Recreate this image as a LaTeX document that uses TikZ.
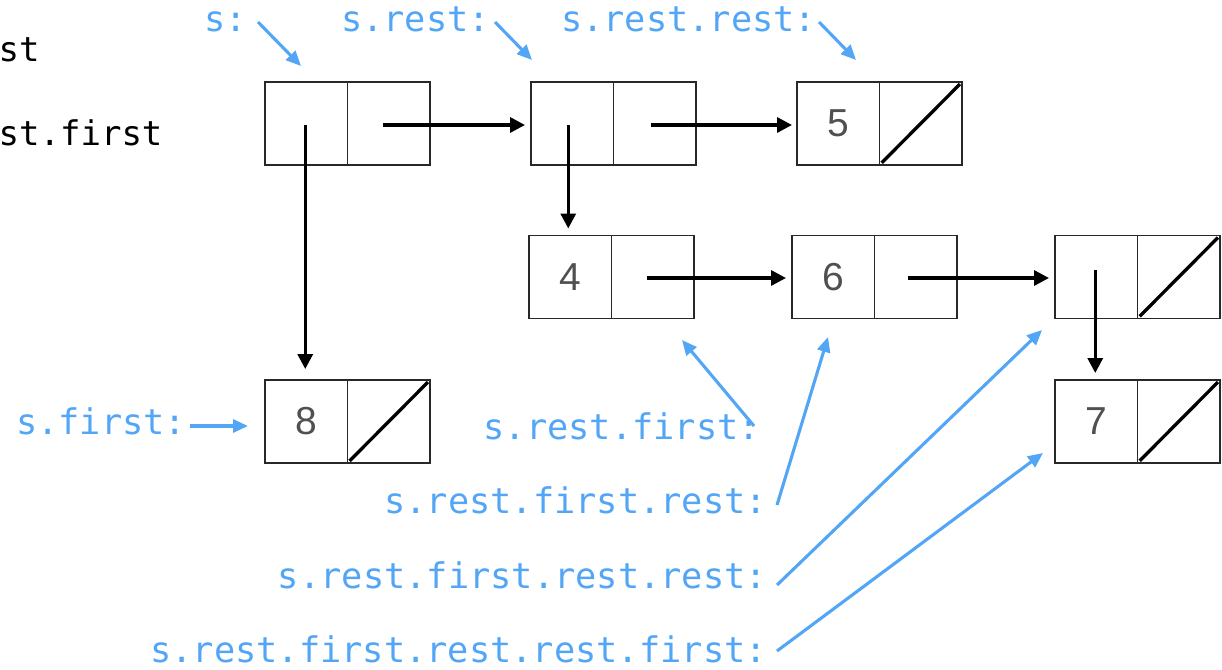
\documentclass[tikz,border=0pt]{standalone}
\usepackage{fontspec}
\setmonofont{DejaVu Sans Mono}
\newfontfamily\digitfont{Liberation Sans}
\usetikzlibrary{arrows.meta}
\definecolor{lblblue}{RGB}{82,166,245}
\definecolor{numgray}{RGB}{80,80,80}
\definecolor{boxline}{RGB}{40,40,40}
\tikzset{
  cell/.style={draw=boxline, line width=1.2pt, minimum width=82.5pt, minimum height=83pt, inner sep=0pt, outer sep=0pt,
    font=\digitfont\fontsize{39}{39}\selectfont, text=numgray},
  ptr/.style={line width=3.3pt, -{Triangle[length=15pt,width=15pt]}},
  nullslash/.style={line width=3.3pt, shorten <=3pt, shorten >=3pt},
  lbl/.style={text=lblblue, font=\ttfamily\fontsize{35.3}{35.3}\selectfont, inner sep=0pt},
  blk/.style={text=black, font=\ttfamily\fontsize{34}{34}\selectfont, inner sep=0pt},
  bptr/.style={draw=lblblue, line width=3.1pt, -{Triangle[length=15pt,width=13pt]}},
}
\begin{document}
\begin{tikzpicture}[x=1pt,y=-1pt]
\useasboundingbox (0,0) rectangle (1222,669);
% clipped black text at top left
\node[blk, anchor=base west] (t1) at (-1.5,62) {st};
\node[blk, anchor=base west] (t2) at (-1.5,145) {st.first};
% boxes
\node[cell] (Al) at (306.25,123.5) {};
\node[cell] (Ar) at (388.75,123.5) {};
\node[cell] (Bl) at (572.25,123.5) {};
\node[cell] (Br) at (654.75,123.5) {};
\node[cell] (Cl) at (838.25,123.5) {5};
\node[cell] (Cr) at (920.75,123.5) {};
\node[cell] (Dl) at (570.25,277) {4};
\node[cell] (Dr) at (652.75,277) {};
\node[cell] (El) at (833.25,277) {6};
\node[cell] (Er) at (915.75,277) {};
\node[cell] (Fl) at (1096.25,277) {};
\node[cell] (Fr) at (1178.75,277) {};
\node[cell] (Gl) at (1096.25,421.5) {7};
\node[cell] (Gr) at (1178.75,421.5) {};
\node[cell] (Hl) at (306.25,421.5) {8};
\node[cell] (Hr) at (388.75,421.5) {};
% null slashes
\foreach \n in {Cr,Fr,Gr,Hr}
  \draw[nullslash] (\n.south west) -- (\n.north east);
% pointers
\draw[ptr, shorten >=6pt] ([xshift=-6pt,yshift=-1.5pt]Ar.center) -- ([yshift=-1.5pt]Bl.west);
\draw[ptr, shorten >=5pt] ([xshift=-4pt,yshift=-1.5pt]Br.center) -- ([yshift=-1.5pt]Cl.west);
\draw[ptr, shorten >=6pt] ([xshift=-6pt,yshift=-1pt]Dr.center) -- ([yshift=-1pt]El.west);
\draw[ptr, shorten >=6pt] ([xshift=-8pt,yshift=-1pt]Er.center) -- ([yshift=-1pt]Fl.west);
\draw[ptr, shorten >=11pt] ([xshift=-1pt,yshift=-1.5pt]Al.center) -- ([xshift=-1pt]Al.center |- Hl.north);
\draw[ptr, shorten >=7pt] ([xshift=-4pt,yshift=-1.5pt]Bl.center) -- ([xshift=-4pt]Bl.center |- Dl.north);
\draw[ptr, shorten >=7pt] ([xshift=-1pt,yshift=7pt]Fl.center) -- ([xshift=-1pt]Fl.center |- Gl.north);
% labels
\node[lbl, anchor=base west] (ls) at (204,32) {s:};
\node[lbl, anchor=base west] (lsr) at (341,32) {s.rest:};
\node[lbl, anchor=base west] (lsrr) at (561,32) {s.rest.rest:};
\node[lbl, anchor=base west] (lsf) at (16,434) {s.first:};
\node[lbl, anchor=base east] (lsrf) at (760,439) {s.rest.first:};
\node[lbl, anchor=base east] (lsrfr) at (767,513) {s.rest.first.rest:};
\node[lbl, anchor=base east] (lsrfrr) at (767,588) {s.rest.first.rest.rest:};
\node[lbl, anchor=base east] (lsrfrrf) at (767,662) {s.rest.first.rest.rest.first:};
% label arrow coordinates
\coordinate (a1s) at (258,22);   \coordinate (a1e) at (301,66);
\coordinate (a2s) at (495,22);   \coordinate (a2e) at (532,60);
\coordinate (a3s) at (819,22);   \coordinate (a3e) at (856,60);
\coordinate (a4s) at (190,426);  \coordinate (a4e) at (248,426);
\coordinate (a5s) at (754,426);  \coordinate (a5e) at (682,340);
\coordinate (a6s) at (777,505);  \coordinate (a6e) at (828,337);
\coordinate (a7s) at (777,585);  \coordinate (a7e) at (1042,330);
\coordinate (a8s) at (777,651);  \coordinate (a8e) at (1043,453);
\draw[bptr] (a1s) -- (a1e);
\draw[bptr] (a2s) -- (a2e);
\draw[bptr] (a3s) -- (a3e);
\draw[bptr] (a4s) -- (a4e);
\draw[bptr] (a5s) -- (a5e);
\draw[bptr] (a6s) -- (a6e);
\draw[bptr] (a7s) -- (a7e);
\draw[bptr] (a8s) -- (a8e);
\end{tikzpicture}
\end{document}
